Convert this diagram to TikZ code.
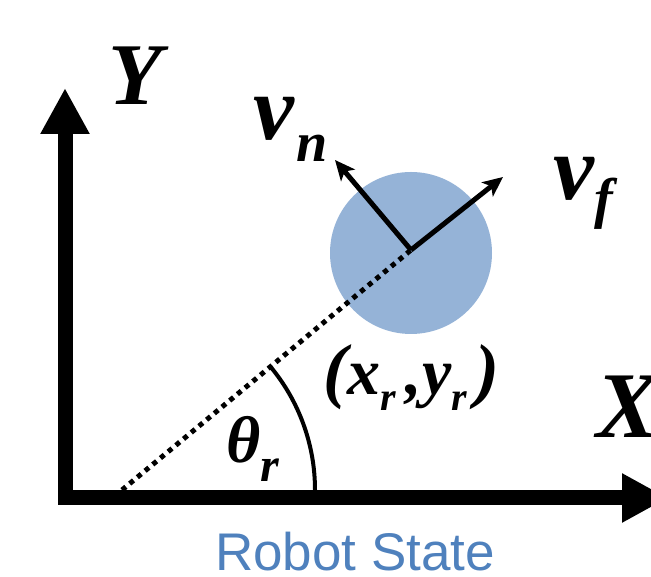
\documentclass[tikz,border=0pt]{standalone}
\usepackage{fontspec}
\setmainfont{Liberation Serif}
\newfontfamily\capfont{Liberation Sans}
\usetikzlibrary{arrows.meta,positioning,calc}
\definecolor{cRobot}{HTML}{95B3D7}
\definecolor{cCaption}{HTML}{4F81BD}
% lowered subscript: size, drop, text
\newcommand{\lowsub}[3]{\raisebox{-#2pt}{\fontsize{#1}{#1}\selectfont #3}}

\begin{document}
\begin{tikzpicture}[
    x=1pt, y=1pt,
    axis/.style={line width=15pt, line join=miter, {Triangle[width=46pt,length=46pt]}-{Triangle[width=46pt,length=46pt]}},
    vel/.style={line width=5pt, -{Stealth[width=18pt,length=20pt,inset=5pt]}},
    lbl/.style={inner sep=0pt, anchor=base west, font=\bfseries\itshape}
]
\useasboundingbox (0,0) rectangle (651,577);

\coordinate (corner) at (65,79);
\coordinate (ytip) at (65,489);
\coordinate (xtip) at (668,79);
\coordinate (base) at (122,87);
\node[circle, fill=cRobot, minimum size=162pt, inner sep=0pt] (robot) at (411,324) {};
\coordinate (pos) at (411,327);
\coordinate (vn) at (335,417);
\coordinate (vf) at (503,400);

\draw[axis] (ytip) -- (corner) -- (xtip);
\draw[line width=5pt, dash pattern=on 5pt off 5pt] (base) -- (pos);
\draw[line width=4pt] ($(base)+(193,0)$) arc[start angle=0, end angle=39.7, radius=193];
\draw[vel] (pos) -- (vn);
\draw[vel] (pos) -- (vf);

\node[lbl, font=\fontsize{88}{88}\selectfont\bfseries\itshape] (ylab) at (108,472) {Y};
\node[lbl, font=\fontsize{94}{94}\selectfont\bfseries\itshape] (xlab) at (596,139) {X};
\node[lbl, font=\fontsize{92}{92}\selectfont\bfseries\itshape] (vnlab) at (253,437) {v\kern2pt\lowsub{56}{22}{n}};
\node[lbl, font=\fontsize{92}{92}\selectfont\bfseries\itshape] (vflab) at (553,377) {v\lowsub{56}{18}{f}};
\node[lbl, font=\fontsize{66}{66}\selectfont\bfseries\itshape] (thlab) at (226,114) {θ\lowsub{48}{19}{r}};
\node[lbl, font=\fontsize{66}{66}\selectfont\bfseries\itshape] (poslab) at (323,182)
  {{\fontsize{72}{72}\selectfont(}x\lowsub{40}{16}{r}\kern10pt,y\lowsub{40}{16}{r}\kern8pt{\fontsize{72}{72}\selectfont)}};

\node[inner sep=0pt, anchor=base, text=cCaption, font=\capfont\fontsize{53}{53}\selectfont] (caption) at (355,6) {Robot State};
\end{tikzpicture}
\end{document}
